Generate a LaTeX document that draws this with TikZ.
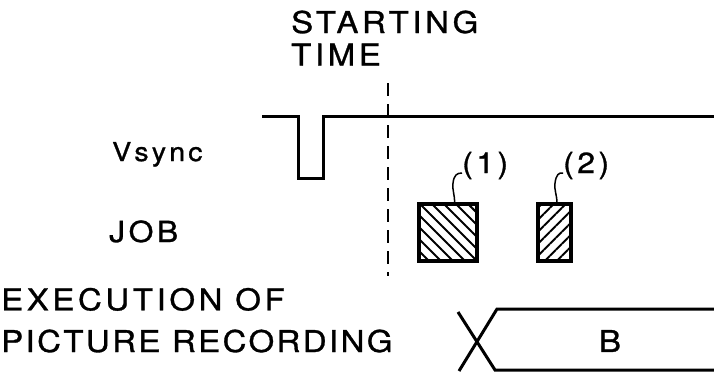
\documentclass[tikz,border=0pt]{standalone}
\usepackage{fontspec}
\setmainfont{TeX Gyre Heros}
\newfontfamily\labelfont[LetterSpace=12,FakeStretch=1.1,FakeBold=1]{TeX Gyre Heros}
\usetikzlibrary{patterns.meta}

\begin{document}
\begin{tikzpicture}[x=1pt,y=-1pt]
	\tikzstyle{every node}=[inner sep=0pt]
	\tikzstyle{signal}=[line width=3pt]
	\tikzstyle{leader}=[line width=1.5pt]
	\tikzstyle{jobbox}=[draw, line width=3.8pt, minimum height=57pt]
	\tikzstyle{bigtext}=[font={\labelfont\fontsize{30}{32.5}\selectfont}]
	\useasboundingbox (0,0) rectangle (714,373);

	% labels
	\node[bigtext, anchor=base west, align=left] (start) at (291,65.5) {STARTING\\TIME};
	\node[font={\labelfont\fontsize{26}{28}\selectfont}, anchor=base west] (vsync) at (112,161) {Vsync};
	\node[font={\labelfont\fontsize{29}{32}\selectfont}, anchor=base west] (job) at (109,242) {JOB};
	\node[font={\labelfont\fontsize{30}{41.7}\selectfont}, anchor=base west, align=left] (exec) at (1,352) {EXECUTION OF\\{\addfontfeature{LetterSpace=8}PICTURE RECORDING}};

	% vsync pulse and starting time
	\draw[signal] (262,116) -- (298,116) -- (298,178) -- (323,178) -- (323,116) -- (714,116);
	\draw[line width=1.9pt, dash pattern=on 13pt off 8pt] (388,83) -- (388,276);

	% jobs
	\node[jobbox, minimum width=58pt, pattern={Lines[angle=-45,distance=8.5pt,line width=2pt]}] (job1) at (448,232.5) {};
	\node[jobbox, minimum width=33pt, pattern={Lines[angle=45,distance=8.5pt,line width=2pt]}] (job2) at (554.5,232.5) {};
	\node[font={\labelfont\fontsize{29}{32}\selectfont}, anchor=base west] (lab1) at (462,173) {(1)};
	\node[font={\labelfont\fontsize{29}{32}\selectfont}, anchor=base west] (lab2) at (563,173) {(2)};
	\draw[leader] ([xshift=6.5pt]job1.north) .. controls (455,195) and (452,190) .. (453,183) .. controls (454,175) and (457,173) .. (lab1.base west);
	\draw[leader] ([xshift=2.5pt]job2.north) .. controls (557,195) and (554,190) .. (555,183) .. controls (556,175) and (559,172) .. (lab2.base west);

	% picture recording
	\draw[signal] (458,312) -- (495,370) -- (714,370);
	\draw[signal] (459,371) -- (497,309) -- (714,309);
	\node[bigtext] (recb) at (610,341) {B};
\end{tikzpicture}
\end{document}
